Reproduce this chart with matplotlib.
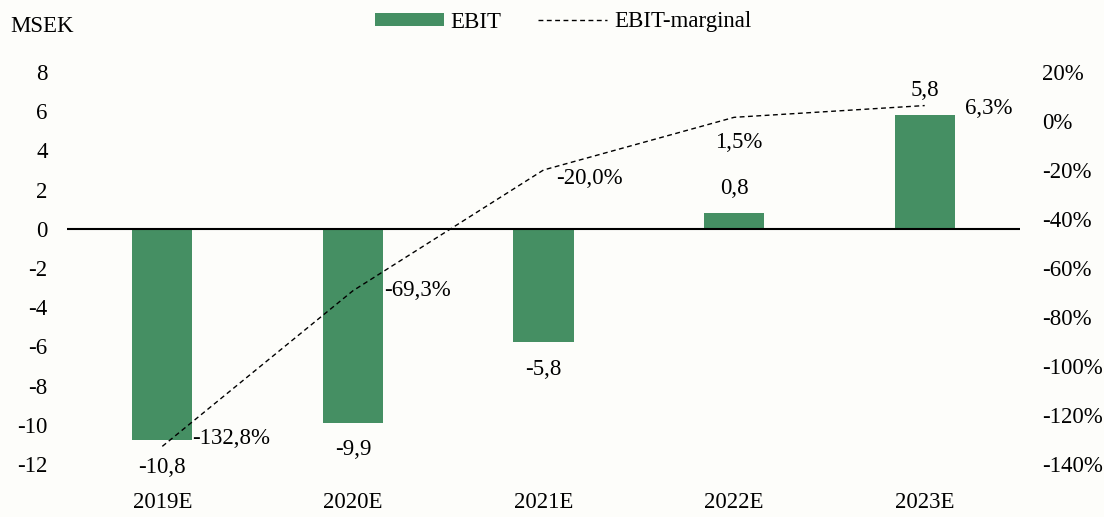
import matplotlib.pyplot as plt
import numpy as np

years = ['2019E', '2020E', '2021E', '2022E', '2023E']
ebit = [-10.8, -9.9, -5.8, 0.8, 5.8]
margin = [-132.8, -69.3, -20.0, 1.5, 6.3]
ebit_labels = ['-10,8', '-9,9', '-5,8', '0,8', '5,8']
margin_labels = ['-132,8%', '-69,3%', '-20,0%', '1,5%', '6,3%']

bar_color = '#458f63'
bg = '#fdfdfa'

plt.rcParams['font.family'] = ['Liberation Serif', 'DejaVu Serif']
plt.rcParams['font.size'] = 16.5
plt.rcParams['axes.unicode_minus'] = False

fig = plt.figure(figsize=(11.04, 5.17), dpi=100, facecolor=bg)
ax = fig.add_axes([67 / 1104, 53 / 517, 953 / 1104, 392 / 517])
ax.set_facecolor(bg)
x = np.arange(len(years))

bars = ax.bar(x, ebit, width=0.315, color=bar_color, label='EBIT', zorder=2)
ax.axhline(0, color='black', lw=1.5, zorder=3)
ax.set_xlim(-0.5, 4.5)
ax.set_ylim(-12, 8)
ax.set_yticks(range(-12, 9, 2))
ax.set_xticks(x)
ax.set_xticklabels(years)
ax.tick_params(axis='both', length=0)
ax.tick_params(axis='y', pad=14)
ax.tick_params(axis='x', pad=20)
for s in ax.spines.values():
    s.set_visible(False)

ax2 = ax.twinx()
ax2.set_ylim(-140, 20)
ax2.set_yticks(range(-140, 21, 20))
ax2.set_yticklabels([f'{v}%' for v in range(-140, 21, 20)])
ax2.tick_params(axis='y', length=0, pad=16)
for s in ax2.spines.values():
    s.set_visible(False)
line, = ax2.plot(x, margin, color='black', lw=1, dashes=(3.5, 2.5), label='EBIT-marginal', zorder=4)

# bar value labels
for i, (v, t) in enumerate(zip(ebit, ebit_labels)):
    off = -27 if v < 0 else 25
    ax.annotate(t, (x[i], v), xytext=(0, off), textcoords='offset pixels',
                ha='center', va='center')

# margin labels (Excel-style positions)
offsets = [(30, 8, 'left'), (31, 0, 'left'), (13, -8, 'left'), (5, -25, 'center'), (40, -3, 'left')]
for i, (v, t) in enumerate(zip(margin, margin_labels)):
    dx, dy, ha = offsets[i]
    ax2.annotate(t, (x[i], v), xytext=(dx, dy), textcoords='offset pixels',
                 ha=ha, va='center')

fig.text(10 / 1104, 1 - 27 / 517, 'MSEK', ha='left', va='center')

fig.legend(handles=[bars, line], loc='center', bbox_to_anchor=(563 / 1104, 1 - 22 / 517),
           ncol=2, frameon=False, handlelength=3.0, handleheight=0.5,
           handletextpad=0.3, columnspacing=1.6)

fig.savefig('out.png', dpi=100, facecolor=bg)
